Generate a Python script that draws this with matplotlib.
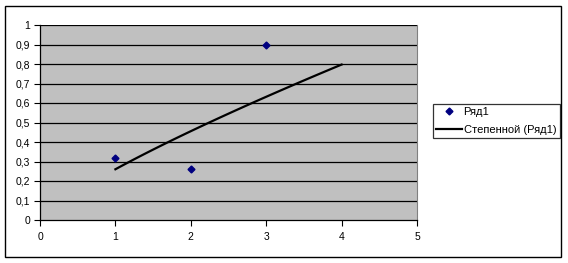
import numpy as np
import matplotlib
matplotlib.use("Agg")
import matplotlib.pyplot as plt
from matplotlib.patches import Rectangle

plt.rcParams.update({'font.family': 'Liberation Sans', 'font.size': 7.5})

# Data series (Ряд1)
x_vals = [1, 2, 3]
y_vals = [0.32, 0.26, 0.9]
series_label = "Ряд1"
trend_label = "Степенной (Ряд1)"
x_ticks = [0, 1, 2, 3, 4, 5]
y_ticks = [0, 0.1, 0.2, 0.3, 0.4, 0.5, 0.6, 0.7, 0.8, 0.9, 1]
trend_range = [1, 4]

# Power trendline y = a * x^b fitted in log space
b, log_a = np.polyfit(np.log(x_vals), np.log(y_vals), 1)
xt = np.linspace(trend_range[0], trend_range[1], 100)
yt = np.exp(log_a) * xt ** b

fig = plt.figure(figsize=(5.68, 2.63), dpi=100)
fig.patch.set_facecolor('white')
fig.patches.append(Rectangle((5 / 568, 6 / 263), 556 / 568, 251 / 263,
                             transform=fig.transFigure, fill=False,
                             edgecolor='black', linewidth=1.0))

ax = fig.add_axes([40 / 568, 43 / 263, 377 / 568, 195 / 263])
ax.set_facecolor('#C0C0C0')

for y in y_ticks[1:]:
    ax.axhline(y, color='black', linewidth=0.9, zorder=1)

ax.plot(x_vals, y_vals, linestyle='none', marker='D', markersize=3.5,
        color='#000080', label=series_label, zorder=3)
ax.plot(xt, yt, color='black', linewidth=1.6, label=trend_label, zorder=2)

ax.set_xlim(0, 5)
ax.set_ylim(0, 1)
ax.set_xticks(x_ticks)
ax.set_yticks(y_ticks)
ax.set_yticklabels([('%g' % v).replace('.', ',') for v in y_ticks])
ax.tick_params(direction='out', length=4, width=0.8, pad=3)
ax.tick_params(axis='x', pad=5)

for side in ['left', 'bottom']:
    ax.spines[side].set_color('black')
    ax.spines[side].set_linewidth(0.9)
ax.spines['right'].set_color('#808080')
ax.spines['top'].set_visible(False)

leg = fig.legend(loc='upper left', bbox_to_anchor=(433 / 568, 1 - 104 / 263),
                 frameon=True, fancybox=False, edgecolor='black',
                 fontsize=8, handlelength=2.3, borderpad=0.3,
                 labelspacing=0.65, handletextpad=0.15, borderaxespad=0,
                 handleheight=0.7)
leg.get_frame().set_linewidth(0.9)

plt.savefig("out.png", dpi=100)
